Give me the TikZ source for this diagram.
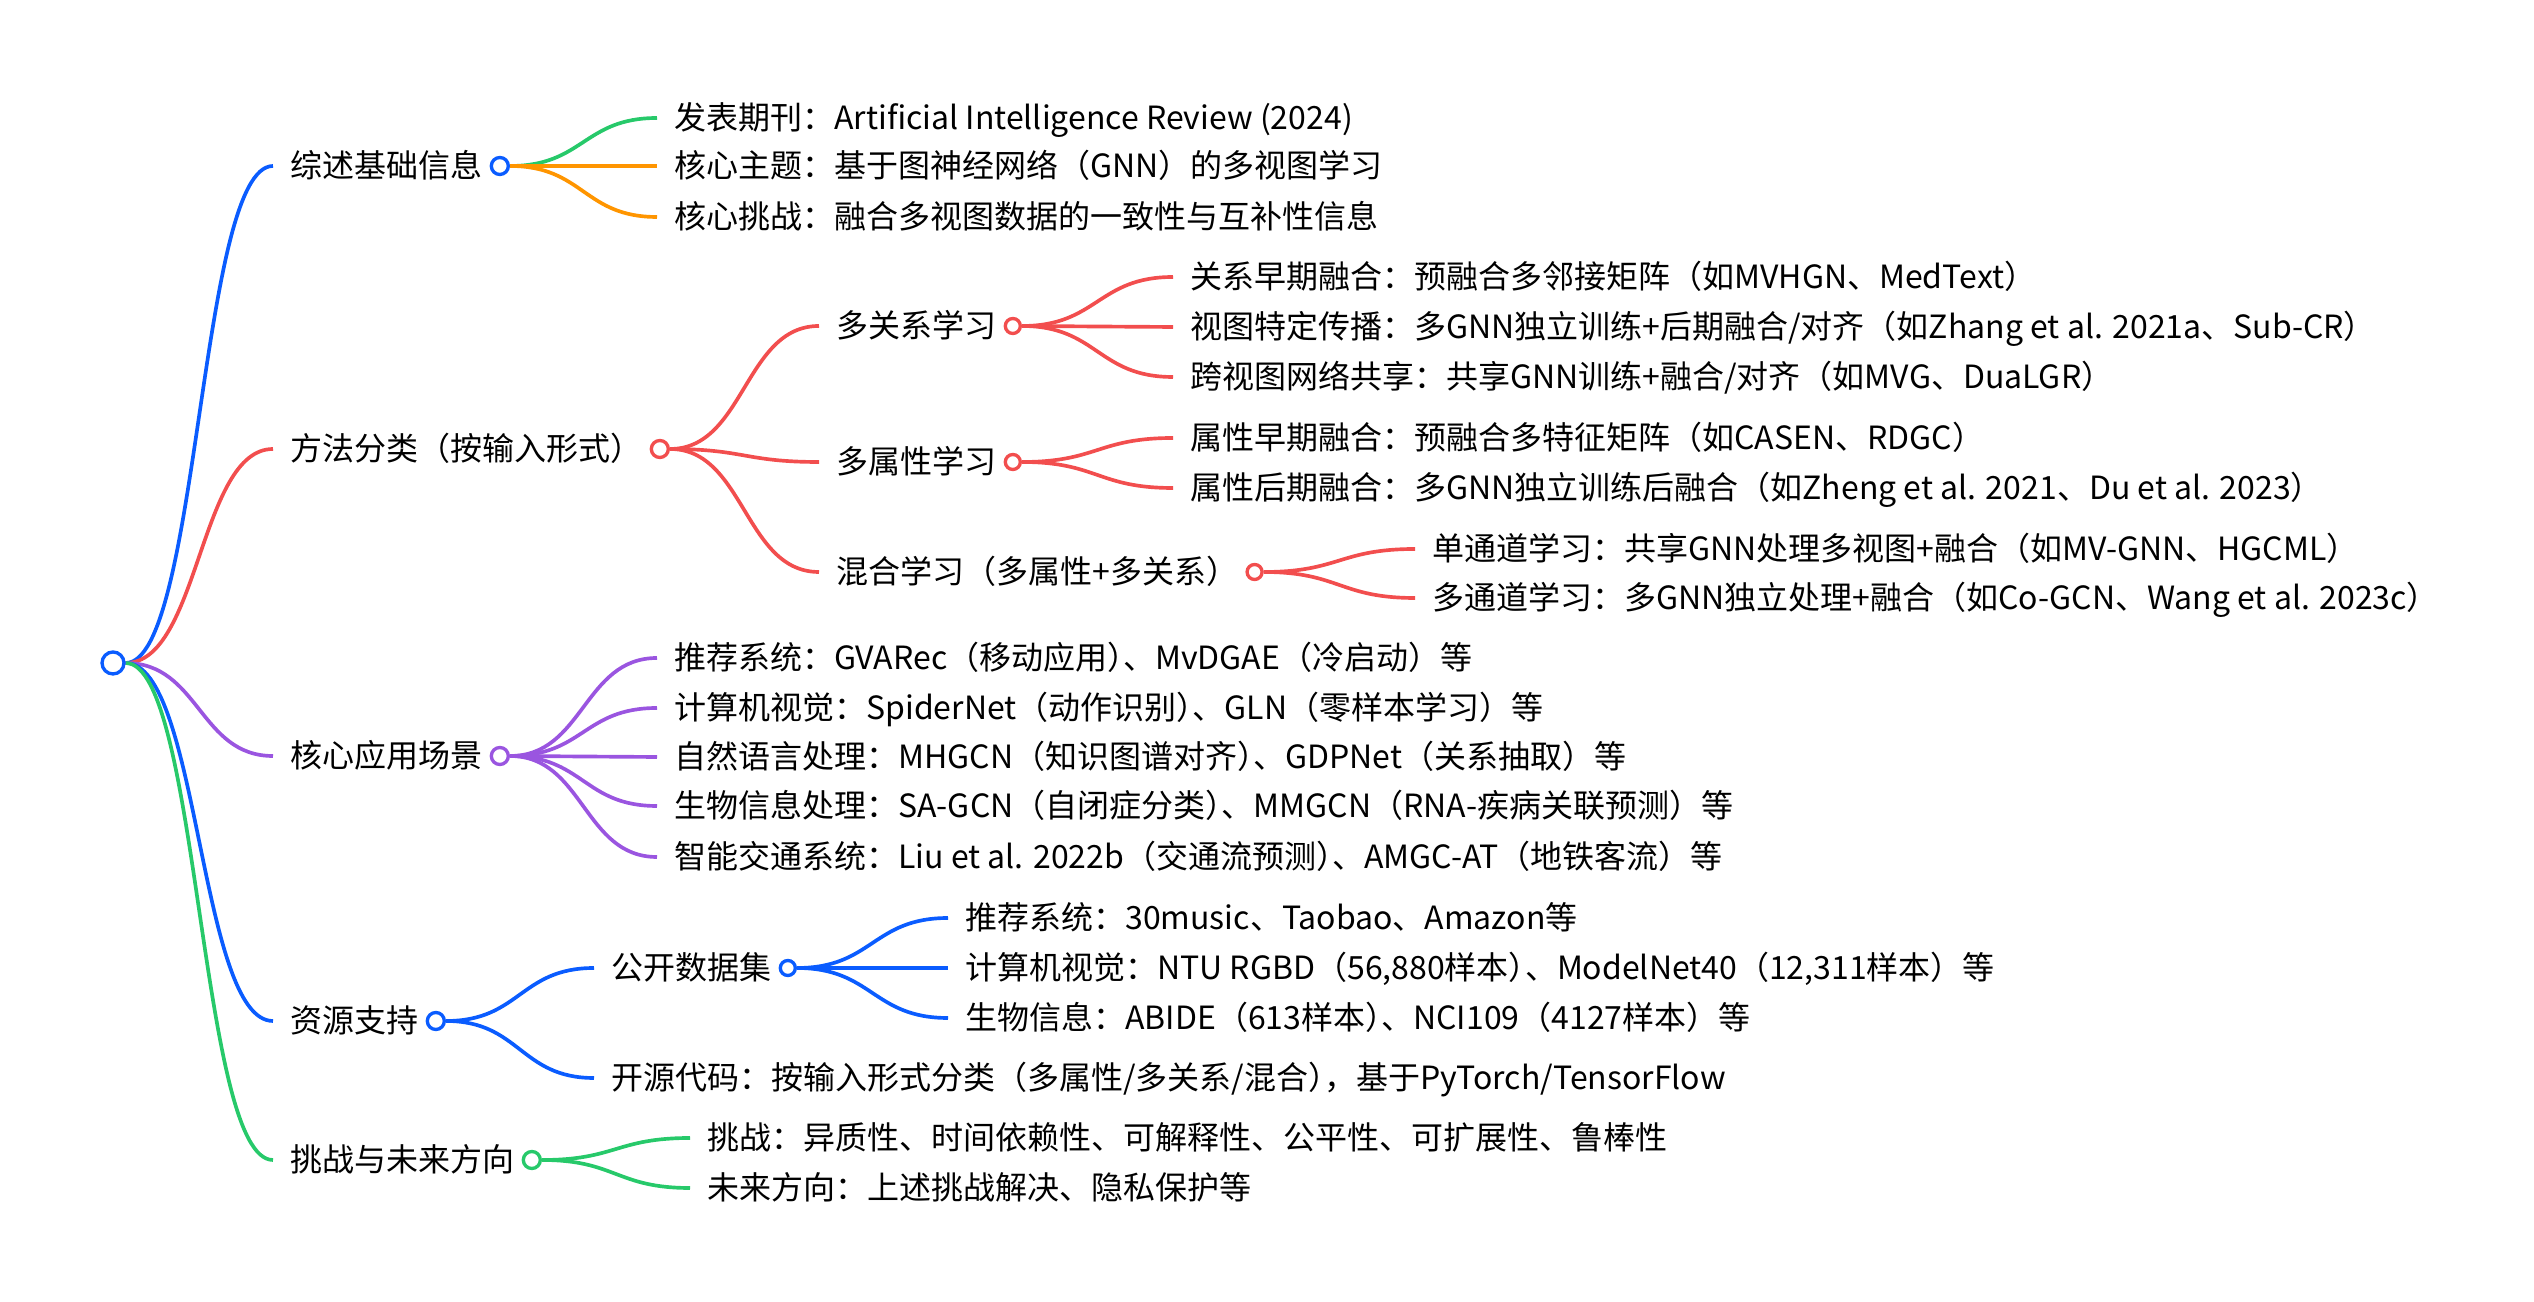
\documentclass[tikz,border=0pt]{standalone}
\usepackage{fontspec}
\setmainfont{Noto Sans CJK SC}
\usetikzlibrary{positioning,calc,backgrounds}
\definecolor{mmblue}{HTML}{0A5CFF}
\definecolor{mmred}{HTML}{F24E4E}
\definecolor{mmpurple}{HTML}{9A55E0}
\definecolor{mmgreen}{HTML}{27C96A}
\definecolor{mmorange}{HTML}{FF9500}
\newcommand\hk{\kern-0.5em}
\tikzset{branch/.style={line width=1.1pt, to path={let \p1=(\tikztostart), \p2=(\tikztotarget) in .. controls ({(\x1+\x2)/2},\y1) and ({(\x1+\x2)/2},\y2) .. (\tikztotarget)}}}

\begin{document}
\begin{tikzpicture}[x=0.3pt, y=-0.3pt]
\tikzstyle{topic} = [anchor=west, inner xsep=5pt, inner ysep=0pt, text height=8.4pt, text depth=1.2pt, font=\fontsize{9.6}{11}\selectfont]
\tikzstyle{dot} = [circle, draw, line width=1pt, fill=white, inner sep=0pt, minimum size=5.1pt]
\useasboundingbox (0,0) rectangle (2534,1302);

% nodes
    \node [dot, draw=mmblue, minimum size=6.6pt] (root) at (113,663) {};
    \node [topic] (info) at (273,166) {综述基础信息};
    \node [dot, draw=mmblue, right=-3pt of info] (infodot) {};
    \node [topic] (journal) at (657,118) {发表期刊：Artificial Intelligence Review (2024)};
    \node [topic] (theme) at (657,166) {核心主题：基于图神经网络（GNN）的多视图学习};
    \node [topic] (issue) at (657,217) {核心挑战：融合多视图数据的一致性与互补性信息};

    \node [topic] (method) at (273,449) {方法分类（按输入形式）};
    \node [dot, draw=mmred, right=-3pt of method] (methoddot) {};
    \node [topic] (multirel) at (819,326) {多关系学习};
    \node [dot, draw=mmred, minimum size=4.5pt, right=-3pt of multirel] (multireldot) {};
    \node [topic] (relearly) at (1173,277) {关系早期融合：预融合多邻接矩阵（如MVHGN、MedText）};
    \node [topic] (viewprop) at (1173,327) {视图特定传播：多GNN独立训练+后期融合/对齐（如Zhang et al. 2021a、Sub-CR）};
    \node [topic] (crossview) at (1173,377) {跨视图网络共享：共享GNN训练+融合/对齐（如MVG、DuaLGR）};
    \node [topic] (multiattr) at (819,462) {多属性学习};
    \node [dot, draw=mmred, minimum size=4.5pt, right=-3pt of multiattr] (multiattrdot) {};
    \node [topic] (attrearly) at (1173,438) {属性早期融合：预融合多特征矩阵（如CASEN、RDGC）};
    \node [topic] (attrlate) at (1173,488) {属性后期融合：多GNN独立训练后融合（如Zheng et al. 2021、Du et al. 2023）};
    \node [topic] (hybrid) at (819,572) {混合学习（多属性+多关系）};
    \node [dot, draw=mmred, minimum size=4.5pt, right=-3pt of hybrid] (hybriddot) {};
    \node [topic] (single) at (1415,549) {单通道学习：共享GNN处理多视图+融合（如MV-GNN、HGCML）};
    \node [topic] (multi) at (1415,598) {多通道学习：多GNN独立处理+融合（如Co-GCN、Wang et al. 2023c）};

    \node [topic] (apps) at (273,756) {核心应用场景};
    \node [dot, draw=mmpurple, right=-3pt of apps] (appsdot) {};
    \node [topic] (rec) at (657,658) {推荐系统：GVARec（移动应用）\hk、MvDGAE（冷启动）等};
    \node [topic] (cv) at (657,708) {计算机视觉：SpiderNet（动作识别）\hk、GLN（零样本学习）等};
    \node [topic] (nlp) at (657,757) {自然语言处理：MHGCN（知识图谱对齐）\hk、GDPNet（关系抽取）等};
    \node [topic] (bio) at (657,806) {生物信息处理：SA-GCN（自闭症分类）\hk、MMGCN（RNA-疾病关联预测）等};
    \node [topic] (traffic) at (657,857) {智能交通系统：Liu et al. 2022b（交通流预测）\hk、AMGC-AT（地铁客流）等};

    \node [topic] (res) at (273,1021) {资源支持};
    \node [dot, draw=mmblue, right=-3pt of res] (resdot) {};
    \node [topic] (data) at (594,968) {公开数据集};
    \node [dot, draw=mmblue, minimum size=4.5pt, right=-3pt of data] (datadot) {};
    \node [topic] (dsrec) at (948,918) {推荐系统：30music、Taobao、Amazon等};
    \node [topic] (dscv) at (948,968) {计算机视觉：NTU RGBD（56,880样本）\hk、ModelNet40（12,311样本）等};
    \node [topic] (dsbio) at (948,1018) {生物信息：ABIDE（613样本）\hk、NCI109（4127样本）等};
    \node [topic] (code) at (594,1078) {开源代码：按输入形式分类（多属性/多关系/混合）\hk，基于PyTorch/TensorFlow};

    \node [topic] (outlook) at (273,1160) {挑战与未来方向};
    \node [dot, draw=mmgreen, right=-3pt of outlook] (outlookdot) {};
    \node [topic] (chal) at (690,1138) {挑战：异质性、时间依赖性、可解释性、公平性、可扩展性、鲁棒性};
    \node [topic] (fut) at (690,1188) {未来方向：上述挑战解决、隐私保护等};

% links
\begin{scope}[on background layer]
    \draw [branch, mmblue] (root.east) to (info.west);
    \draw [branch, mmred] (root.east) to (method.west);
    \draw [branch, mmpurple] (root.east) to (apps.west);
    \draw [branch, mmblue] (root.east) to (res.west);
    \draw [branch, mmgreen] (root.east) to (outlook.west);

    \draw [branch, mmgreen] (infodot.east) to (journal.west);
    \draw [branch, mmorange] (infodot.east) to (theme.west);
    \draw [branch, mmorange] (infodot.east) to (issue.west);

    \draw [branch, mmred] (methoddot.east) to (multirel.west);
    \draw [branch, mmred] (methoddot.east) to (multiattr.west);
    \draw [branch, mmred] (methoddot.east) to (hybrid.west);
    \draw [branch, mmred] (multireldot.east) to (relearly.west);
    \draw [branch, mmred] (multireldot.east) to (viewprop.west);
    \draw [branch, mmred] (multireldot.east) to (crossview.west);
    \draw [branch, mmred] (multiattrdot.east) to (attrearly.west);
    \draw [branch, mmred] (multiattrdot.east) to (attrlate.west);
    \draw [branch, mmred] (hybriddot.east) to (single.west);
    \draw [branch, mmred] (hybriddot.east) to (multi.west);

    \draw [branch, mmpurple] (appsdot.east) to (rec.west);
    \draw [branch, mmpurple] (appsdot.east) to (cv.west);
    \draw [branch, mmpurple] (appsdot.east) to (nlp.west);
    \draw [branch, mmpurple] (appsdot.east) to (bio.west);
    \draw [branch, mmpurple] (appsdot.east) to (traffic.west);

    \draw [branch, mmblue] (resdot.east) to (data.west);
    \draw [branch, mmblue] (resdot.east) to (code.west);
    \draw [branch, mmblue] (datadot.east) to (dsrec.west);
    \draw [branch, mmblue] (datadot.east) to (dscv.west);
    \draw [branch, mmblue] (datadot.east) to (dsbio.west);

    \draw [branch, mmgreen] (outlookdot.east) to (chal.west);
    \draw [branch, mmgreen] (outlookdot.east) to (fut.west);
\end{scope}
\end{tikzpicture}
\end{document}
